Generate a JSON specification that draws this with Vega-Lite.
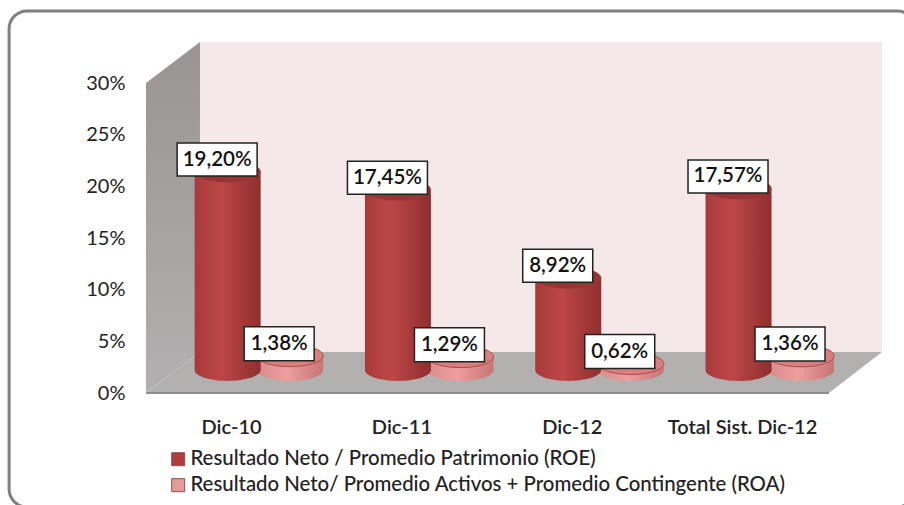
{
"$schema":"https://vega.github.io/schema/vega-lite/v6.json",
"width":736,"height":351,"autosize":"none",
"padding":{"left":146,"top":42,"right":22,"bottom":112},
"background":"white",
"view":{"stroke":null},
"config":{"font":"Lato"},
"datasets":{
"frame":[{"group":-0.304,"x2":5.016,"value":36.98,"y2":-11.03}],
"back":[{"group":0.817,"value":33.97,"bot":3.97},{"group":4.822,"value":33.97,"bot":3.97}],
"side":[{"group":0.5,"value":30,"bot":0},{"group":0.817,"value":33.97,"bot":3.97}],
"floor":[{"group":0.5,"value":0,"bot":0},{"group":0.817,"value":3.97,"bot":0},{"group":4.51,"value":3.97,"bot":0},{"group":4.822,"value":3.97,"bot":3.97}],
"edge":[{"group":0.5,"x2":4.51,"value":0}],
"base":[{"group":1,"value":0},{"group":2,"value":0},{"group":3,"value":0},{"group":4,"value":0}],
"vals":[
{"group":1,"value":19.20,"label":"19,20%","serie":"Resultado Neto / Promedio Patrimonio  (ROE)"},
{"group":2,"value":17.45,"label":"17,45%","serie":"Resultado Neto / Promedio Patrimonio  (ROE)"},
{"group":3,"value":8.92,"label":"8,92%","serie":"Resultado Neto / Promedio Patrimonio  (ROE)"},
{"group":4,"value":17.57,"label":"17,57%","serie":"Resultado Neto / Promedio Patrimonio  (ROE)"},
{"group":1,"value":1.38,"label":"1,38%","serie":"Resultado Neto/ Promedio Activos + Promedio Contingente (ROA)"},
{"group":2,"value":1.29,"label":"1,29%","serie":"Resultado Neto/ Promedio Activos + Promedio Contingente (ROA)"},
{"group":3,"value":0.62,"label":"0,62%","serie":"Resultado Neto/ Promedio Activos + Promedio Contingente (ROA)"},
{"group":4,"value":1.36,"label":"1,36%","serie":"Resultado Neto/ Promedio Activos + Promedio Contingente (ROA)"}
]},
"encoding":{
"x":{"field":"group","type":"quantitative","scale":{"domain":[0.5,4.822],"nice":false,"zero":false,"padding":0},
"axis":{"values":[1,2,3,4],"labelExpr":"['','Dic-10','Dic-11','Dic-12','Total Sist. Dic-12'][datum.value]","title":null,"domain":false,"ticks":false,"grid":false,"labelPadding":24,"labelFontSize":20,"labelFontWeight":600,"labelColor":"#222222","labelFont":"Lato","labelOverlap":false}},
"y":{"field":"value","type":"quantitative","scale":{"domain":[0,33.97],"nice":false,"zero":false},
"axis":{"values":[0,5,10,15,20,25,30],"labelExpr":"datum.value+'%'","title":null,"domain":false,"ticks":false,"grid":false,"labelPadding":21,"labelFontSize":20,"labelFontWeight":400,"labelColor":"#222222","labelFont":"Lato"}}
},
"layer":[
{"data":{"name":"frame"},"mark":{"type":"rect","filled":false,"stroke":"#808080","strokeWidth":3,"cornerRadius":18,"clip":false},
"encoding":{"x2":{"field":"x2"},"y2":{"field":"y2"}}},
{"data":{"name":"back"},"mark":{"type":"area","color":"#f5e8e8"},"encoding":{"y2":{"field":"bot"}}},
{"data":{"name":"side"},"mark":{"type":"area","color":{"gradient":"linear","x1":0,"y1":0,"x2":0,"y2":1,"stops":[{"offset":0,"color":"#9a9494"},{"offset":1,"color":"#b2b0b0"}]}},"encoding":{"y2":{"field":"bot"}}},
{"data":{"name":"floor"},"mark":{"type":"area","color":"#b3b0b0"},"encoding":{"y2":{"field":"bot"}}},
{"data":{"name":"edge"},"mark":{"type":"rule","color":"#8e8e8e","strokeWidth":2},"encoding":{"x2":{"field":"x2"}}},

{"data":{"name":"base"},"mark":{"type":"point","filled":true,"opacity":1,"size":4356,"xOffset":59,"yOffset":-23,"shape":"M-1,0C-1,-0.18 -0.55,-0.33 0,-0.33C0.55,-0.33 1,-0.18 1,0C1,0.18 0.55,0.33 0,0.33C-0.55,0.33 -1,0.18 -1,0Z","color":{"gradient":"linear","x1":0,"y1":0,"x2":1,"y2":0,"stops":[{"offset":0,"color":"#d98a8a"},{"offset":0.45,"color":"#ee9f9f"},{"offset":1,"color":"#c77474"}]}}},
{"data":{"name":"vals"},"transform":[{"filter":"indexof(datum.serie,'ROA')>=0"}],"mark":{"type":"bar","width":66,"xOffset":59,"yOffset":-23,"y2Offset":-23,"color":{"gradient":"linear","x1":0,"y1":0,"x2":1,"y2":0,"stops":[{"offset":0,"color":"#d98a8a"},{"offset":0.45,"color":"#ee9f9f"},{"offset":1,"color":"#c77474"}]}},
"encoding":{"y2":{"datum":0}}},
{"data":{"name":"vals"},"transform":[{"filter":"indexof(datum.serie,'ROA')>=0"}],"mark":{"type":"point","filled":true,"opacity":1,"size":4356,"xOffset":59,"yOffset":-23,"stroke":"#a84a4a","strokeWidth":1,"fill":"#d97f7f","shape":"M-1,0C-1,-0.18 -0.55,-0.33 0,-0.33C0.55,-0.33 1,-0.18 1,0C1,0.18 0.55,0.33 0,0.33C-0.55,0.33 -1,0.18 -1,0Z"}},

{"data":{"name":"base"},"mark":{"type":"point","filled":true,"opacity":1,"size":4356,"xOffset":-3.5,"yOffset":-23,"shape":"M-1,0C-1,-0.18 -0.55,-0.33 0,-0.33C0.55,-0.33 1,-0.18 1,0C1,0.18 0.55,0.33 0,0.33C-0.55,0.33 -1,0.18 -1,0Z","color":{"gradient":"linear","x1":0,"y1":0,"x2":1,"y2":0,"stops":[{"offset":0,"color":"#a83a3a"},{"offset":0.4,"color":"#bd4747"},{"offset":1,"color":"#8f2e2e"}]}}},
{"data":{"name":"vals"},"transform":[{"filter":"indexof(datum.serie,'ROE')>=0"}],"mark":{"type":"bar","width":66,"xOffset":-3.5,"yOffset":-23,"y2Offset":-23,"color":{"gradient":"linear","x1":0,"y1":0,"x2":1,"y2":0,"stops":[{"offset":0,"color":"#a83a3a"},{"offset":0.4,"color":"#bd4747"},{"offset":1,"color":"#8f2e2e"}]}},
"encoding":{"y2":{"datum":0}}},
{"data":{"name":"vals"},"transform":[{"filter":"indexof(datum.serie,'ROE')>=0"}],"mark":{"type":"point","filled":true,"opacity":1,"size":4356,"xOffset":-3.5,"yOffset":-23,"fill":"#9a3434","shape":"M-1,0C-1,-0.18 -0.55,-0.33 0,-0.33C0.55,-0.33 1,-0.18 1,0C1,0.18 0.55,0.33 0,0.33C-0.55,0.33 -1,0.18 -1,0Z"}},

{"data":{"name":"vals"},"transform":[{"filter":"indexof(datum.serie,'ROE')>=0 && datum.value>=10"}],"mark":{"type":"rect","width":80,"height":33,"xOffset":-14,"yOffset":-35,"fill":"white","stroke":"#222222","strokeWidth":1.5}},
{"data":{"name":"vals"},"transform":[{"filter":"indexof(datum.serie,'ROE')>=0 && datum.value<10"}],"mark":{"type":"rect","width":70,"height":33,"xOffset":-14,"yOffset":-35,"fill":"white","stroke":"#222222","strokeWidth":1.5}},
{"data":{"name":"vals"},"transform":[{"filter":"indexof(datum.serie,'ROA')>=0"}],"mark":{"type":"rect","width":70,"height":34,"xOffset":48,"yOffset":-35,"fill":"white","stroke":"#222222","strokeWidth":1.5}},
{"data":{"name":"vals"},"transform":[{"filter":"indexof(datum.serie,'ROE')>=0"}],"mark":{"type":"text","xOffset":-14,"yOffset":-35,"fontSize":20.5,"fontWeight":600,"font":"Lato","color":"#111111"},"encoding":{"text":{"field":"label"}}},
{"data":{"name":"vals"},"transform":[{"filter":"indexof(datum.serie,'ROA')>=0"}],"mark":{"type":"text","xOffset":48,"yOffset":-35,"fontSize":20.5,"fontWeight":600,"font":"Lato","color":"#111111"},"encoding":{"text":{"field":"label"}}},

{"data":{"name":"vals"},"mark":{"type":"point","filled":true,"size":0},
"encoding":{"color":{"field":"serie","type":"nominal","scale":{"domain":["Resultado Neto / Promedio Patrimonio  (ROE)","Resultado Neto/ Promedio Activos + Promedio Contingente (ROA)"],"range":["#b03c3c","#e79a9a"]},
"legend":{"title":null,"orient":"none","legendX":22,"legendY":407,"symbolType":"square","symbolSize":169,"symbolOpacity":1,"symbolStrokeColor":"#8a5050","symbolStrokeWidth":1,"labelFontSize":20.4,"labelFontWeight":500,"labelFont":"Lato","labelColor":"#222222","labelLimit":800,"labelOffset":2,"rowPadding":5,"symbolOffset":0,"padding":0}}}}
]
}
